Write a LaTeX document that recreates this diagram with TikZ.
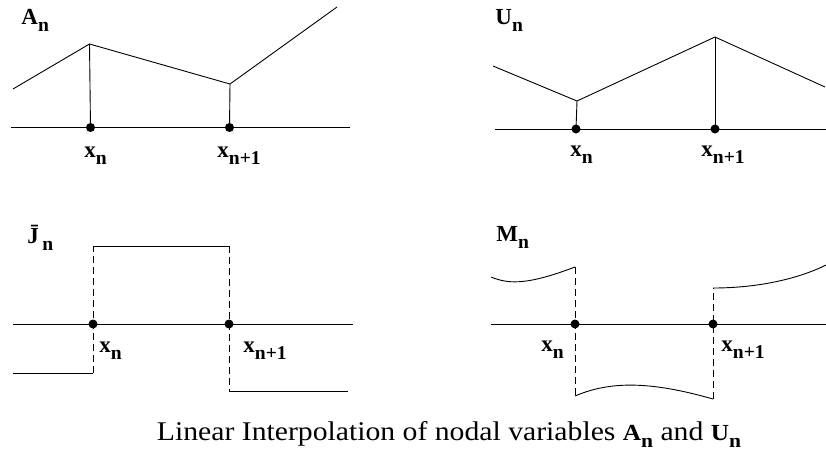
\documentclass[tikz,border=0pt]{standalone}
\usepackage{fontspec}
\setmainfont{Liberation Serif}
\newcommand{\vsub}[2]{\textbf{#1}\raisebox{-0.33em}{\scalebox{0.85}{\textbf{#2}}}}

\begin{document}
\begin{tikzpicture}[x=1pt, y=-1pt, line width=0.9pt,
  dot/.style={circle, fill, inner sep=0pt, minimum size=9pt},
  lbl/.style={anchor=base west, inner sep=0pt, font=\fontsize{23}{23}\selectfont},
  jump/.style={dash pattern=on 7pt off 4pt}]
  \useasboundingbox (0,0) rectangle (826,451);

  % A_n
  \node[lbl] (A) at (21,24) {\vsub{A}{n}};
  \coordinate (A0) at (11,127.5);
  \coordinate (A9) at (350,127.5);
  \node[dot] (A1) at (90.5,127.5) {};
  \node[dot] (A2) at (229.5,127.5) {};
  \coordinate (a0) at (13,89);
  \coordinate (a1) at (89.5,44);
  \coordinate (a2) at (230,84);
  \coordinate (a3) at (337,7);
  \draw (A0) -- (A9);
  \draw (a0) -- (a1) -- (a2) -- (a3);
  \draw (a1) -- (A1.center);
  \draw (a2) -- (A2.center);
  \node[lbl] (xa1) at (84,157) {\vsub{x}{n}};
  \node[lbl] (xa2) at (217,157) {\vsub{x}{n+1}};

  % U_n
  \node[lbl] (U) at (495,24) {\vsub{U}{n}};
  \coordinate (U0) at (495,129);
  \coordinate (U9) at (826,129);
  \node[dot] (U1) at (576,129) {};
  \node[dot] (U2) at (715,129) {};
  \coordinate (u0) at (493,66);
  \coordinate (u1) at (577,101);
  \coordinate (u2) at (715,37);
  \coordinate (u3) at (825,87);
  \draw (U0) -- (U9);
  \draw (u0) -- (u1) -- (u2) -- (u3);
  \draw (u1) -- (U1.center);
  \draw (u2) -- (U2.center);
  \node[lbl] (xu1) at (570,156) {\vsub{x}{n}};
  \node[lbl] (xu2) at (701,156) {\vsub{x}{n+1}};

  % J_n
  \node[lbl] (J) at (27,243) {\vsub{\=J}{n}};
  \coordinate (J0) at (13,324);
  \coordinate (J9) at (353,324);
  \node[dot] (J1) at (93,324) {};
  \node[dot] (J2) at (229,324) {};
  \coordinate (j0) at (13,373);
  \coordinate (j1) at (93,373);
  \coordinate (j2) at (93,246);
  \coordinate (j3) at (229,246);
  \coordinate (j4) at (229,391);
  \coordinate (j5) at (348,391);
  \draw (J0) -- (J9);
  \draw (j0) -- (j1);
  \draw[jump] (j1) -- (j2);
  \draw (j2) -- (j3);
  \draw[jump] (j3) -- (j4);
  \draw (j4) -- (j5);
  \node[lbl] (xj1) at (99,352) {\vsub{x}{n}};
  \node[lbl] (xj2) at (243,352) {\vsub{x}{n+1}};

  % M_n
  \node[lbl] (M) at (496,241) {\vsub{M}{n}};
  \coordinate (M0) at (491,324);
  \coordinate (M9) at (826,324);
  \node[dot] (M1) at (575,324) {};
  \node[dot] (M2) at (713,324) {};
  \coordinate (m0) at (491,277);
  \coordinate (m1) at (575,267);
  \coordinate (m2) at (575,396);
  \coordinate (m3) at (713,399);
  \coordinate (m4) at (713,288);
  \coordinate (m5) at (826,265);
  \draw (M0) -- (M9);
  \draw (m0) .. controls (510,285) and (530,284) .. (m1);
  \draw[jump] (m1) -- (m2);
  \draw (m2) .. controls (610,381) and (650,381) .. (m3);
  \draw[jump] (m3) -- (m4);
  \draw (m4) .. controls (760,288) and (800,278) .. (m5);
  \node[lbl] (xm1) at (541,351) {\vsub{x}{n}};
  \node[lbl] (xm2) at (721,351) {\vsub{x}{n+1}};

  \node[anchor=base, inner sep=0pt, font=\fontsize{27}{27}\selectfont] (cap) at (449,440)
    {\scalebox{1.1}[1]{Linear Interpolation of nodal variables {\fontsize{23}{23}\selectfont\vsub{A}{n}} and {\fontsize{23}{23}\selectfont\vsub{U}{n}}}};
\end{tikzpicture}
\end{document}
